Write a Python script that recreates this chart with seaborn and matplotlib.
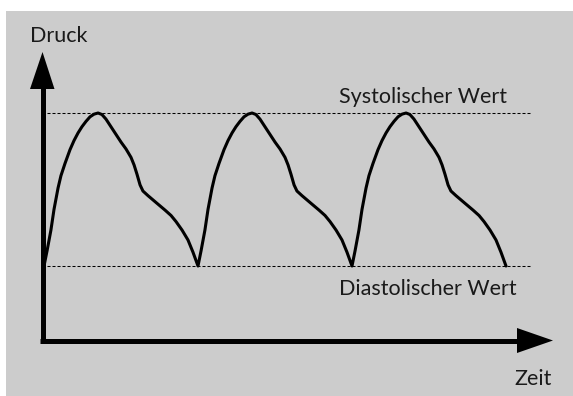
import matplotlib
matplotlib.use("Agg")
import matplotlib.pyplot as plt
from matplotlib.patches import Rectangle, Polygon
from matplotlib.lines import Line2D
import seaborn as sns

# ---- data (time in s, pressure in mmHg), three heart beats ----
time_s = [
    # beat 1
    0.000, 0.016, 0.036, 0.052, 0.073, 0.088, 0.109, 0.135, 0.156, 0.177,
    0.197, 0.218, 0.239, 0.260, 0.281, 0.301, 0.322, 0.348, 0.374, 0.400,
    0.426, 0.452, 0.468, 0.483, 0.499, 0.514, 0.540, 0.582, 0.629, 0.660,
    0.686, 0.717, 0.748, 0.774,
    # beat 2
    0.800, 0.816, 0.836, 0.852, 0.873, 0.888, 0.909, 0.935, 0.956, 0.977,
    0.997, 1.018, 1.039, 1.060, 1.081, 1.101, 1.122, 1.148, 1.174, 1.200,
    1.226, 1.252, 1.268, 1.283, 1.299, 1.314, 1.340, 1.382, 1.429, 1.460,
    1.486, 1.517, 1.548, 1.574,
    # beat 3
    1.600, 1.616, 1.636, 1.652, 1.673, 1.688, 1.709, 1.735, 1.756, 1.777,
    1.797, 1.818, 1.839, 1.860, 1.881, 1.901, 1.922, 1.948, 1.974, 2.000,
    2.026, 2.052, 2.068, 2.083, 2.099, 2.114, 2.140, 2.182, 2.229, 2.260,
    2.286, 2.317, 2.348, 2.374, 2.400,
]
pressure = [
    # beat 1
    80.0, 84.0, 89.4, 94.8, 100.4, 103.6, 106.8, 110.4, 112.8, 114.8,
    116.4, 117.8, 119.0, 119.7, 120.0, 119.6, 118.4, 116.4, 114.4, 112.4,
    110.6, 108.4, 106.4, 104.0, 101.2, 99.6, 98.4, 96.6, 94.6, 93.2,
    91.6, 89.4, 86.8, 83.6,
    # beat 2
    80.0, 84.0, 89.4, 94.8, 100.4, 103.6, 106.8, 110.4, 112.8, 114.8,
    116.4, 117.8, 119.0, 119.7, 120.0, 119.6, 118.4, 116.4, 114.4, 112.4,
    110.6, 108.4, 106.4, 104.0, 101.2, 99.6, 98.4, 96.6, 94.6, 93.2,
    91.6, 89.4, 86.8, 83.6,
    # beat 3
    80.0, 84.0, 89.4, 94.8, 100.4, 103.6, 106.8, 110.4, 112.8, 114.8,
    116.4, 117.8, 119.0, 119.7, 120.0, 119.6, 118.4, 116.4, 114.4, 112.4,
    110.6, 108.4, 106.4, 104.0, 101.2, 99.6, 98.4, 96.6, 94.6, 93.2,
    91.6, 89.4, 86.8, 83.6, 80.0,
]
systolic = 120.0
diastolic = 80.0
label_y = "Druck"
label_x = "Zeit"
label_sys = "Systolischer Wert"
label_dia = "Diastolischer Wert"

# ---- layout ----
W, H = 573, 396
sns.set_theme(style="white")
plt.rcParams["font.family"] = ["Lato", "DejaVu Sans"]

fig = plt.figure(figsize=(W / 100, H / 100), dpi=100, facecolor="white")
ax = fig.add_axes([0, 0, 1, 1])
ax.set_axis_off()

def fx(px):
    return px / W

def fy(py):
    return 1 - py / H

T = ax.transAxes
# gray panel
ax.add_patch(Rectangle((fx(6), 0), 1, fy(11), transform=T,
                       facecolor="#cccccc", edgecolor="none", zorder=0))

# scales: 192.5 px per second, t=0 at x=44px ; 3.825 px per mmHg, 80 at y=266px
ppx = 192.5
ppy = 153 / 40
ax.set_xlim(-44 / ppx, (W - 44) / ppx)
ax.set_ylim(80 - (H - 266) / ppy, 80 + 266 / ppy)

sns.lineplot(x=time_s, y=pressure, ax=ax, color="black", linewidth=2.2,
             sort=False, estimator=None, zorder=5,
             solid_joinstyle="round", solid_capstyle="round")

for v in (systolic, diastolic):
    ax.axhline(v, xmin=fx(42), xmax=fx(530), color="black", linewidth=0.75,
               dashes=(2.9, 1.9), zorder=3)

# axis arrows
ax.add_line(Line2D([fx(42.5), fx(42.5)], [fy(343), fy(86)], transform=T,
                   color="black", linewidth=3.6, solid_capstyle="butt", zorder=6))
ax.add_line(Line2D([fx(40), fx(520)], [fy(340.5), fy(340.5)], transform=T,
                   color="black", linewidth=3.6, solid_capstyle="butt", zorder=6))
ax.add_patch(Polygon([(fx(42.5), fy(52)), (fx(30), fy(89)), (fx(54.5), fy(89))],
                     closed=True, transform=T, facecolor="black", edgecolor="none", zorder=7))
ax.add_patch(Polygon([(fx(553), fy(340.5)), (fx(517), fy(328)), (fx(517), fy(353))],
                     closed=True, transform=T, facecolor="black", edgecolor="none", zorder=7))

tc = "#1a1a1a"
fs = 15.5
ax.text(fx(30), fy(42), label_y, transform=T, ha="left", va="baseline", fontsize=fs, color=tc)
ax.text(fx(507), fy(103), label_sys, transform=T, ha="right", va="baseline", fontsize=fs, color=tc)
ax.text(fx(517), fy(295), label_dia, transform=T, ha="right", va="baseline", fontsize=fs, color=tc)
ax.text(fx(552), fy(385), label_x, transform=T, ha="right", va="baseline", fontsize=fs, color=tc)

fig.savefig("out.png", dpi=100, facecolor="white")
